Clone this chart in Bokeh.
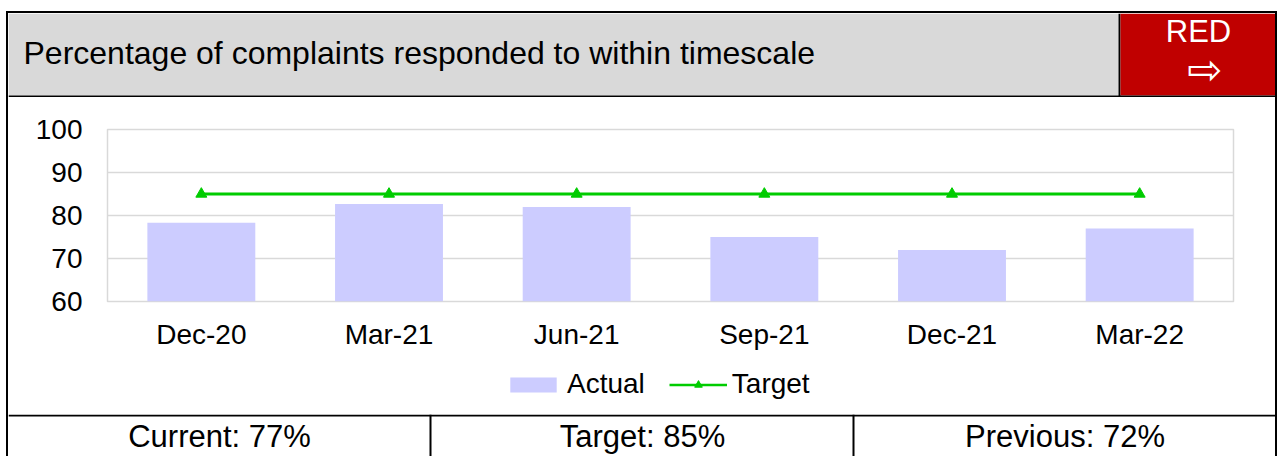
from bokeh.plotting import figure
from bokeh.layouts import column
from bokeh.models import (Range1d, FactorRange, FixedTicker, Legend, LegendItem,
                          ColumnDataSource)
from bokeh.core.properties import value
from bokeh.embed import file_html
from bokeh.resources import INLINE

# ---- data ----
months = ["Dec-20", "Mar-21", "Jun-21", "Sep-21", "Dec-21", "Mar-22"]
actual = [78.3, 82.7, 82, 75, 72, 77]
target = [85, 85, 85, 85, 85, 85]
y_ticks = [60, 70, 80, 90, 100]
series_names = ["Actual", "Target"]
title_text = "Percentage of complaints responded to within timescale"
status_text = "RED"
current_value = 77
target_value = 85
previous_value = 72

FONT = value("Liberation Sans")
W = 1267
BAR_COLOR = "#CCCCFF"
LINE_COLOR = "#00CC00"

# ---- header ----
HH = 84
header = figure(width=W, height=HH, x_range=Range1d(0, W), y_range=Range1d(0, HH),
                x_axis_type=None, y_axis_type=None, toolbar_location=None,
                output_backend="svg", min_border=0, outline_line_color=None,
                frame_align=False)
header.xgrid.visible = False
header.ygrid.visible = False
header.quad(left=[0], right=[1110], bottom=[2], top=[HH], fill_color="#D9D9D9", line_color=None)
header.quad(left=[1110], right=[1112], bottom=[0], top=[HH], fill_color="black", line_color=None)
header.quad(left=[1112], right=[W], bottom=[2], top=[HH], fill_color="#C00000", line_color=None)
header.quad(left=[0], right=[W], bottom=[0], top=[2], fill_color="black", line_color=None)
header.text(x=[15], y=[45], text=[title_text], text_font=FONT, text_font_size="32px",
            text_color="black", text_baseline="middle", text_align="left")
header.text(x=[1190], y=[66], text=[status_text], text_font=FONT, text_font_size="31px",
            text_color="white", text_baseline="middle", text_align="center")
header.text(x=[1196], y=[28.5], text=["\u21e8"], text_font=value("DejaVu Sans"),
            text_font_size="42px", text_color="white", text_baseline="middle",
            text_align="center")

# ---- chart ----
CH = 265
p = figure(width=W, height=CH, x_range=FactorRange(*months, range_padding=0),
           y_range=Range1d(60, 100), toolbar_location=None, output_backend="svg",
           min_border_left=99, min_border_right=42, min_border_top=32,
           min_border_bottom=61, frame_align=False)
p.outline_line_color = "#D9D9D9"
p.outline_line_width = 1.5
p.xgrid.grid_line_color = None
p.ygrid.grid_line_color = "#D9D9D9"
p.ygrid.grid_line_width = 1.5
p.yaxis.ticker = FixedTicker(ticks=y_ticks)
for ax in (p.xaxis[0], p.yaxis[0]):
    ax.axis_line_color = None
    ax.major_tick_line_color = None
    ax.minor_tick_line_color = None
    ax.major_tick_in = 0
    ax.major_tick_out = 0
    ax.major_label_text_font = "Liberation Sans"
    ax.major_label_text_font_size = "28px"
    ax.major_label_text_color = "black"
p.yaxis.major_label_standoff = 25
p.xaxis.major_label_standoff = 17

src = ColumnDataSource(dict(m=months, a=actual, t=target))
p.vbar(x="m", top="a", bottom=60, width=0.575, source=src,
       fill_color=BAR_COLOR, line_color=None)
p.line(x="m", y="t", source=src, line_color=LINE_COLOR, line_width=3)
p.scatter(x="m", y="t", source=src, marker="triangle", size=11,
          fill_color=LINE_COLOR, line_color=LINE_COLOR)

# ---- legend strip (legend keys use the same glyph styles as the chart series) ----
LH = 52
lf = figure(width=W, height=LH, x_range=Range1d(0, W), y_range=Range1d(0, LH),
            x_axis_type=None, y_axis_type=None, toolbar_location=None,
            output_backend="svg", min_border=0, outline_line_color=None,
            frame_align=False)
lf.xgrid.visible = False
lf.ygrid.visible = False
proxy = ColumnDataSource(dict(x=[float("nan")], y=[float("nan")]))
lb = lf.vbar(x="x", top="y", width=1, source=proxy, fill_color=BAR_COLOR, line_color=None)
ll = lf.line(x="x", y="y", source=proxy, line_color=LINE_COLOR, line_width=2.5)
lm = lf.scatter(x="x", y="y", source=proxy, marker="triangle", size=11,
                fill_color=LINE_COLOR, line_color=LINE_COLOR)
legend = Legend(items=[LegendItem(label=series_names[0], renderers=[lb]),
                       LegendItem(label=series_names[1], renderers=[ll, lm])],
                orientation="horizontal", location=(496, 14),
                glyph_width=58, glyph_height=19, label_standoff=5, spacing=24,
                padding=0, margin=0, border_line_color=None,
                background_fill_alpha=0,
                label_text_font="Liberation Sans", label_text_font_size="28px",
                label_text_color="black")
lf.add_layout(legend, "center")

# ---- footer ----
FH = 42
footer = figure(width=W, height=FH, x_range=Range1d(0, W), y_range=Range1d(0, FH),
                x_axis_type=None, y_axis_type=None, toolbar_location=None,
                output_backend="svg", min_border=0, outline_line_color=None,
                frame_align=False)
footer.xgrid.visible = False
footer.ygrid.visible = False
footer.quad(left=[0], right=[W], bottom=[FH - 2], top=[FH], fill_color="black", line_color=None)
footer.quad(left=[421, 844], right=[423, 846], bottom=[0, 0], top=[FH, FH],
            fill_color="black", line_color=None)
footer.text(x=[211, 634, 1056.5], y=[20, 20, 20],
            text=[f"Current: {current_value}%", f"Target: {target_value}%",
                  f"Previous: {previous_value}%"],
            text_font=FONT, text_font_size="31px", text_color="black",
            text_baseline="middle", text_align="center")

layout = column(header, p, lf, footer, spacing=0,
                styles={"border-top": "2px solid black", "border-left": "2px solid black",
                        "border-right": "2px solid black", "margin-top": "11px",
                        "margin-left": "6px"})

open("out.html", "w").write(file_html(layout, INLINE))
